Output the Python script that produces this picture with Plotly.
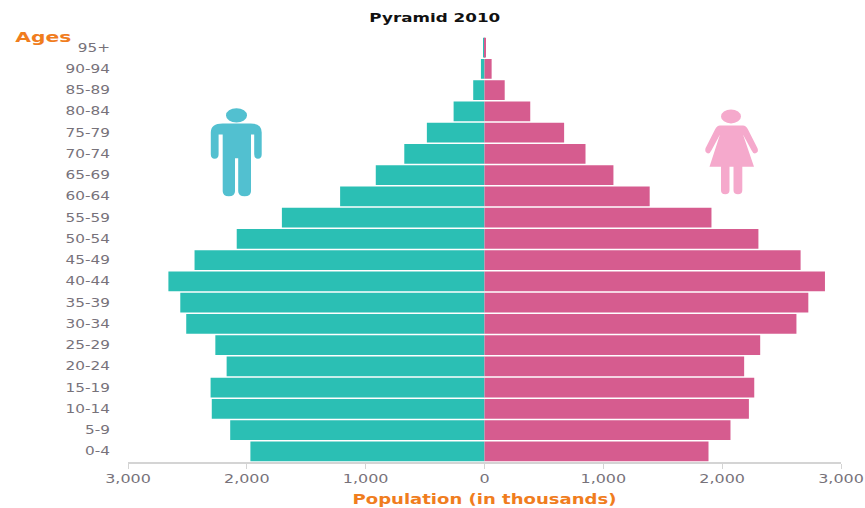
import plotly.graph_objects as go

ages = ["95+", "90-94", "85-89", "80-84", "75-79", "70-74", "65-69", "60-64", "55-59", "50-54",
        "45-49", "40-44", "35-39", "30-34", "25-29", "20-24", "15-19", "10-14", "5-9", "0-4"]
male = [10, 30, 95, 260, 485, 675, 915, 1215, 1705, 2085,
        2440, 2660, 2560, 2510, 2265, 2170, 2305, 2295, 2140, 1970]
female = [12, 60, 170, 385, 670, 850, 1085, 1390, 1910, 2305,
          2660, 2865, 2725, 2625, 2320, 2185, 2270, 2225, 2070, 1885]
tick_vals = [-3000, -2000, -1000, 0, 1000, 2000, 3000]
tick_text = ["3,000", "2,000", "1,000", "0", "1,000", "2,000", "3,000"]

W, H = 865, 508
L, R, T, B = 128, 841, 36.5, 462
TEAL, PINK = "#2BBFB4", "#D65C8F"
GREY, ORANGE = "#77727A", "#F07D1E"
MAN, WOMAN = "#52C0D0", "#F5A9CC"
FONT = "DejaVu Sans"

fig = go.Figure()
fig.add_bar(y=ages, x=[-v for v in male], orientation="h", marker=dict(color=TEAL, line_width=0), name="Male")
fig.add_bar(y=ages, x=female, orientation="h", marker=dict(color=PINK, line_width=0), name="Female")


def px(x):
    return (x - L) / (R - L)


def py(y):
    return 1 - (y - T) / (B - T)


def path(cmds):
    out = []
    for c in cmds:
        if c == "Z":
            out.append("Z")
        else:
            op, *pts = c
            out.append(op + " ".join(f"{px(pts[i]):.5f},{py(pts[i + 1]):.5f}" for i in range(0, len(pts), 2)))
    return " ".join(out)


def icon(cmds, color):
    fig.add_shape(type="path", xref="paper", yref="paper", path=path(cmds),
                  fillcolor=color, line_width=0, layer="above")


def head(cx, cy, rx, ry, color):
    fig.add_shape(type="circle", xref="paper", yref="paper", x0=px(cx - rx), x1=px(cx + rx),
                  y0=py(cy + ry), y1=py(cy - ry), fillcolor=color, line_width=0, layer="above")


# man icon
head(236.5, 115, 10.5, 7.2, MAN)
icon([("M", 222.7, 123), ("L", 250.7, 123), ("Q", 261.7, 123, 261.7, 132), ("L", 261.7, 154),
      ("Q", 261.7, 158.5, 258, 158.5), ("Q", 254.2, 158.5, 254.2, 154), ("L", 254.2, 134), ("L", 251, 134),
      ("L", 251, 191), ("Q", 251, 196, 244.6, 196), ("Q", 238.2, 196, 238.2, 191), ("L", 238.2, 158),
      ("L", 235, 158), ("L", 235, 191), ("Q", 235, 196, 228.8, 196), ("Q", 222.7, 196, 222.7, 191),
      ("L", 222.7, 134), ("L", 218.6, 134), ("L", 218.6, 154), ("Q", 218.6, 158.5, 214.7, 158.5),
      ("Q", 210.8, 158.5, 210.8, 154), ("L", 210.8, 132), ("Q", 210.8, 123, 222.7, 123), "Z"], MAN)

# woman icon
head(731, 116, 10, 7, WOMAN)
icon([("M", 720, 125), ("L", 743, 125), ("Q", 746, 125, 748, 129), ("L", 757.5, 148),
      ("Q", 759, 152, 755.5, 153), ("Q", 753, 153.5, 751.5, 150), ("L", 743, 134), ("L", 754, 166.5),
      ("L", 742.3, 166.5), ("L", 742.3, 190), ("Q", 742.3, 194, 738, 194), ("Q", 733.5, 194, 733.5, 190),
      ("L", 733.5, 166.5), ("L", 729.5, 166.5), ("L", 729.5, 190), ("Q", 729.5, 194, 725.2, 194),
      ("Q", 721, 194, 721, 190), ("L", 721, 166.5), ("L", 709.5, 166.5), ("L", 720, 134), ("L", 711.5, 150),
      ("Q", 710, 153.5, 707.5, 153), ("Q", 704.5, 152, 705.5, 148), ("L", 715, 129), ("Q", 717, 125, 720, 125), "Z"], WOMAN)

fig.update_layout(
    width=W, height=H, autosize=False, showlegend=False, paper_bgcolor="white", plot_bgcolor="white",
    barmode="overlay", bargap=0.07,
    margin=dict(l=L, r=W - R, t=T, b=H - B, pad=0),
    font=dict(family=FONT, color=GREY, size=11.5),
    xaxis=dict(range=[-3000, 3000], tickvals=tick_vals, ticktext=tick_text, showgrid=False, zeroline=False,
               showline=True, linecolor="#D4D4D4", linewidth=1.5, ticks="outside", ticklen=5, tickcolor="#D4D4D4",
               tickwidth=1, tickfont=dict(size=12, color=GREY), automargin=False,
               title=dict(text="<b>Population (in thousands)</b>", font=dict(size=14, color=ORANGE), standoff=9)),
    yaxis=dict(categoryorder="array", categoryarray=ages[::-1], showgrid=False, zeroline=False, showline=False,
               ticks="", ticklabelstandoff=17, tickfont=dict(size=11.5, color=GREY), automargin=False),
    annotations=[
        dict(text="<b>Pyramid 2010</b>", xref="paper", yref="paper", x=px(435), y=py(17), showarrow=False,
             font=dict(size=12, color="#111111"), xanchor="center", yanchor="middle"),
        dict(text="<b>Ages</b>", xref="paper", yref="paper", x=px(43), y=py(37), showarrow=False,
             font=dict(size=14, color=ORANGE), xanchor="center", yanchor="middle"),
    ],
)

# The reference's text is stretched horizontally; widen each label about its own centre or anchor.
STRETCH = """
document.body.style.margin = '0';
document.querySelectorAll('svg.main-svg text').forEach(function (t) {
  var label = t.textContent;
  var s = label.startsWith('Pyramid') ? 1.4 : label.startsWith('Population') ? 1.29 : label === 'Ages' ? 1.45 : 1.33;
  var b = t.getBBox();
  var a = getComputedStyle(t).textAnchor;
  var cx = a === 'end' ? b.x + b.width : b.x + b.width / 2;
  var old = t.getAttribute('transform') || '';
  t.setAttribute('transform', old + ' translate(' + cx + ',0) scale(' + s + ',1) translate(' + (-cx) + ',0)');
});
"""
fig.write_html("out.html", config={"displayModeBar": False}, post_script=STRETCH)
